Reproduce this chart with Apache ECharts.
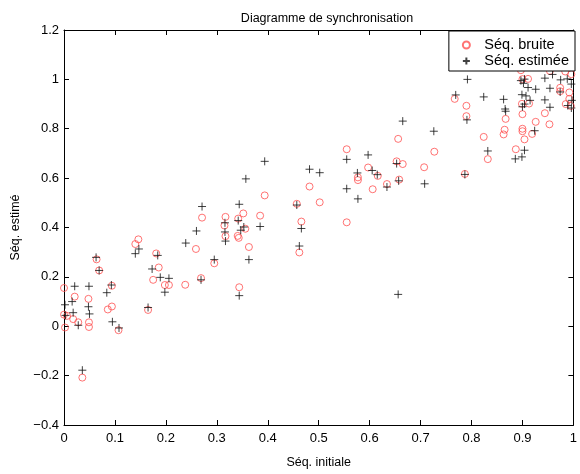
<!DOCTYPE html>
<html>
<head>
<meta charset="utf-8">
<script src="https://cdn.jsdelivr.net/npm/echarts@6/dist/echarts.min.js"></script>
<style>html,body{margin:0;padding:0;background:#fff}#c{width:580px;height:474px}</style>
</head>
<body>
<div id="c"></div>
<script>
var titleText = 'Diagramme de synchronisation';
var xName = 'Séq. initiale';
var yName = 'Séq. estimé';
var seriesNames = ['Séq. bruite', 'Séq. estimée'];

var noisyPoints = [
  [0.146,0.352],[0.140,0.333],[0.064,0.271],[0.069,0.226],[0.181,0.295],[0.186,0.238],[0.175,0.188],[0.198,0.167],
  [0.206,0.167],[0.094,0.164],[0.000,0.155],[0.021,0.120],[0.048,0.111],[0.094,0.080],[0.086,0.068],[0.165,0.066],
  [0.000,0.047],[0.006,0.042],[0.018,0.029],[0.028,0.016],[0.049,0.016],[0.049,-0.003],[0.002,-0.005],[0.107,-0.016],
  [0.036,-0.208],
  [0.394,0.530],[0.271,0.440],[0.317,0.443],[0.352,0.457],[0.342,0.436],[0.385,0.448],[0.315,0.408],[0.317,0.365],
  [0.343,0.358],[0.341,0.366],[0.356,0.395],[0.363,0.321],[0.259,0.313],[0.295,0.255],[0.269,0.195],[0.238,0.168],
  [0.344,0.158],[0.482,0.566],[0.502,0.502],[0.457,0.496],[0.466,0.424],[0.462,0.299],
  [0.656,0.759],[0.555,0.717],[0.727,0.707],[0.653,0.668],[0.665,0.657],[0.597,0.643],[0.707,0.644],[0.577,0.603],
  [0.577,0.592],[0.616,0.609],[0.634,0.576],[0.658,0.594],[0.606,0.555],[0.555,0.421],
  [0.767,0.921],[0.790,0.893],[0.790,0.851],[0.867,0.840],[0.865,0.796],[0.863,0.777],[0.824,0.767],[0.832,0.677],
  [0.787,0.617],[0.887,0.717],[0.900,0.800],[0.900,0.790],[0.904,0.757],[0.919,0.779],[0.926,0.828],[0.944,0.863],
  [0.953,0.818],[0.900,0.859],[0.899,0.901],[0.913,0.902],[0.900,1.001],[0.911,1.002],[0.897,1.037],[0.954,1.034],
  [0.974,0.966],[0.974,0.952],[0.992,0.947],[0.984,1.032],[0.996,1.021],[0.992,0.921],[0.985,0.900],[0.995,0.892]
];

var estimatedPoints = [
  [0.147,0.313],[0.140,0.294],[0.063,0.279],[0.069,0.226],[0.184,0.287],[0.173,0.232],[0.189,0.198],[0.206,0.194],
  [0.198,0.138],[0.165,0.076],[0.093,0.167],[0.084,0.136],[0.021,0.162],[0.049,0.162],[0.016,0.100],[0.002,0.087],
  [0.048,0.079],[0.003,0.044],[0.018,0.055],[0.050,0.050],[0.028,0.004],[0.095,0.018],[0.108,-0.007],[0.036,-0.178],
  [0.357,0.597],[0.482,0.636],[0.502,0.622],[0.271,0.485],[0.344,0.494],[0.457,0.491],[0.342,0.428],[0.316,0.419],
  [0.353,0.402],[0.347,0.389],[0.316,0.382],[0.385,0.404],[0.260,0.386],[0.239,0.337],[0.317,0.345],[0.466,0.396],
  [0.462,0.325],[0.363,0.270],[0.295,0.270],[0.269,0.188],[0.344,0.124],[0.394,0.668],
  [0.665,0.831],[0.726,0.790],[0.597,0.694],[0.555,0.676],[0.653,0.659],[0.576,0.621],[0.605,0.631],[0.615,0.614],
  [0.657,0.589],[0.634,0.564],[0.708,0.577],[0.555,0.557],[0.577,0.516],[0.656,0.129],
  [0.792,1.000],[0.769,0.937],[0.824,0.929],[0.863,0.919],[0.866,0.880],[0.867,0.871],[0.791,0.836],[0.897,0.995],
  [0.904,1.001],[0.902,0.984],[0.911,0.967],[0.926,0.960],[0.944,1.005],[0.959,1.020],[0.954,0.964],[0.975,0.998],
  [0.988,1.002],[0.996,0.981],[0.974,0.949],[0.899,0.938],[0.907,0.933],[0.915,0.915],[0.904,0.900],[0.900,0.889],
  [0.944,0.917],[0.954,0.887],[0.989,0.894],[0.996,0.884],[0.924,0.792],[0.832,0.710],[0.904,0.713],[0.886,0.678],
  [0.899,0.686],[0.787,0.615],[0.997,0.915]
];

var xMin = 0, xMax = 1, xStep = 0.1;
var yMin = -0.4, yMax = 1.2, yStep = 0.2;

var FONT = 'Liberation Sans, Arial, sans-serif';
function fmt(v) {
  var r = Math.round(v * 10) / 10;
  var s = String(r);
  return s.replace('-', '\u2212');
}
var PLUS = 'path://M5,0 L5,10 M0,5 L10,5';

function axisBase(pos, showLabel) {
  return {
    type: 'value', position: pos,
    axisLine: { show: true, onZero: false, lineStyle: { color: '#000', width: 1 } },
    axisTick: { show: true, inside: true, length: 5, lineStyle: { color: '#000', width: 1 } },
    axisLabel: { show: showLabel, color: '#000', fontFamily: FONT, fontSize: 13, formatter: fmt },
    splitLine: { show: false }
  };
}

var xBottom = Object.assign(axisBase('bottom', true), {
  min: xMin, max: xMax, interval: xStep,
  name: xName, nameLocation: 'middle', nameGap: 31,
  nameTextStyle: { color: '#000', fontFamily: FONT, fontSize: 12.5 }
});
xBottom.axisLabel.margin = 7;
var xTop = Object.assign(axisBase('top', false), { min: xMin, max: xMax, interval: xStep });
var yLeft = Object.assign(axisBase('left', true), {
  min: yMin, max: yMax, interval: yStep,
  name: yName, nameLocation: 'middle', nameGap: 42,
  nameTextStyle: { color: '#000', fontFamily: FONT, fontSize: 12.5 }
});
yLeft.axisLabel.margin = 5;
var yRight = Object.assign(axisBase('right', false), { min: yMin, max: yMax, interval: yStep });

var chart = echarts.init(document.getElementById('c'), null, { renderer: 'canvas' });
chart.setOption({
  animation: false,
  backgroundColor: '#fff',
  title: {
    text: titleText, left: 322, textAlign: 'center', top: 7,
    textStyle: { color: '#000', fontFamily: FONT, fontSize: 12.5, fontWeight: 'normal' }
  },
  grid: { left: 64, right: 3, top: 30, bottom: 40, containLabel: false },
  legend: {
    orient: 'vertical', right: 5, top: 31,
    backgroundColor: '#fff', borderColor: '#000', borderWidth: 1,
    padding: [6, 6, 2, 13], itemGap: 0, itemWidth: 26, itemHeight: 7,
    textStyle: { color: '#000', fontFamily: FONT, fontSize: 14.5, lineHeight: 16 },
    data: seriesNames
  },
  xAxis: [xBottom, xTop],
  yAxis: [yLeft, yRight],
  series: [
    {
      name: seriesNames[0], type: 'scatter', xAxisIndex: 0, yAxisIndex: 0,
      symbol: 'circle', symbolSize: 7,
      itemStyle: { color: 'rgba(0,0,0,0)', borderColor: '#ff5050', borderWidth: 1 },
      data: noisyPoints
    },
    {
      name: seriesNames[1], type: 'scatter', xAxisIndex: 0, yAxisIndex: 0,
      symbol: PLUS, symbolSize: 8,
      itemStyle: { color: 'rgba(0,0,0,0)', borderColor: '#111', borderWidth: 1 },
      data: estimatedPoints
    }
  ]
});
</script>
</body>
</html>
